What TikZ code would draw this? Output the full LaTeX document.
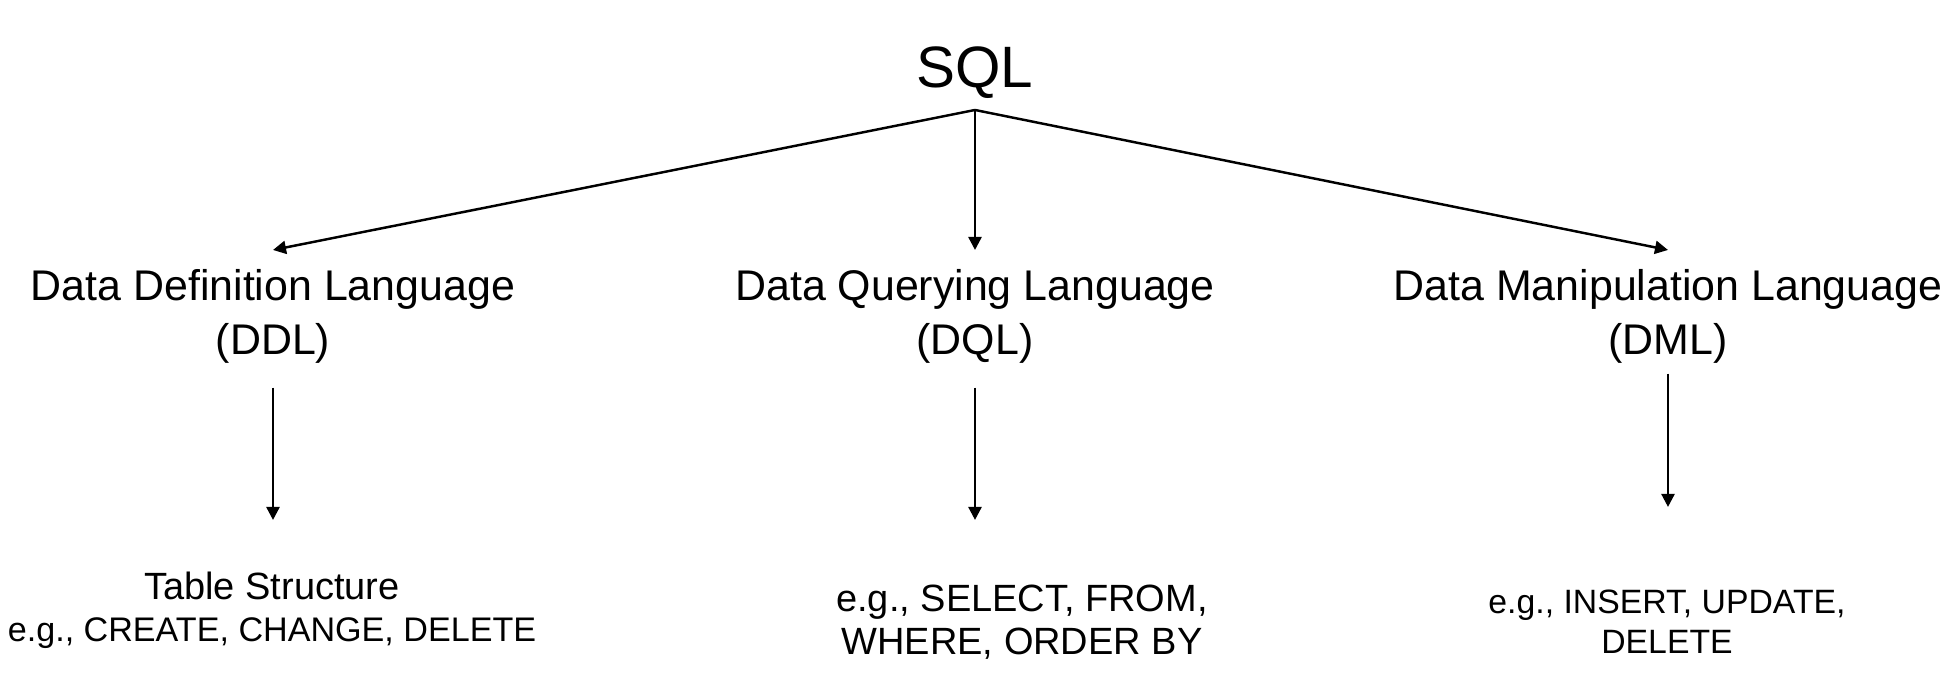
\documentclass[tikz,border=0pt]{standalone}
\usepackage{fontspec}
\setmainfont{Liberation Sans}
\usetikzlibrary{arrows.meta}

\begin{document}
\begin{tikzpicture}[x=0.01cm,y=-0.01cm]
        \tikzstyle{every node}+=[inner sep=0pt]
        \tikzstyle{arrow}=[black, line width=0.7pt, -{Triangle[length=3.7pt,width=3.7pt]}]
        \tikzstyle{lang}=[align=center, anchor=north, inner ysep=0.19cm, font=\fontsize{12.2}{15.4}\selectfont]
        \tikzstyle{example}=[align=center, anchor=north]
        \useasboundingbox (0,0) rectangle (1953,695);
        \node [anchor=base, font=\fontsize{16.6}{19}\selectfont] (sql) at (975,88) {SQL};
        \coordinate (split) at (975,110);
        \node [lang] (ddl) at (273,250) {Data Definition Language\\(DDL)};
        \node [lang] (dql) at (975,250) {Data Querying Language\\(DQL)};
        \node [lang] (dml) at (1668,250) {Data Manipulation Language\\(DML)};
        \node [example, font=\fontsize{9.7}{12}\selectfont] (ddlex) at (272,571)
          {{\fontsize{10.8}{12}\selectfont Table Structure}\\e.g., CREATE, CHANGE, DELETE};
        \node [example, font=\fontsize{10.8}{12.2}\selectfont] (dqlex) at (1022,584)
          {e.g., SELECT, FROM,\\WHERE, ORDER BY};
        \node [example, font=\fontsize{9.6}{11.4}\selectfont] (dmlex) at (1667,589)
          {e.g., INSERT, UPDATE,\\DELETE};
        \draw [arrow] (split) -- (ddl.north);
        \draw [arrow] (split) -- (dql.north);
        \draw [arrow] (split) -- (dml.north);
        \draw [arrow] ([yshift=-0.04cm]ddl.south) -- ([yshift=0.51cm]ddl.south |- ddlex.north);
        \draw [arrow] ([yshift=-0.04cm]dql.south) -- ([yshift=0.64cm]dql.south |- dqlex.north);
        \draw [arrow] ([yshift=0.1cm]dml.south) -- ([yshift=0.82cm]dml.south |- dmlex.north);
\end{tikzpicture}
\end{document}
